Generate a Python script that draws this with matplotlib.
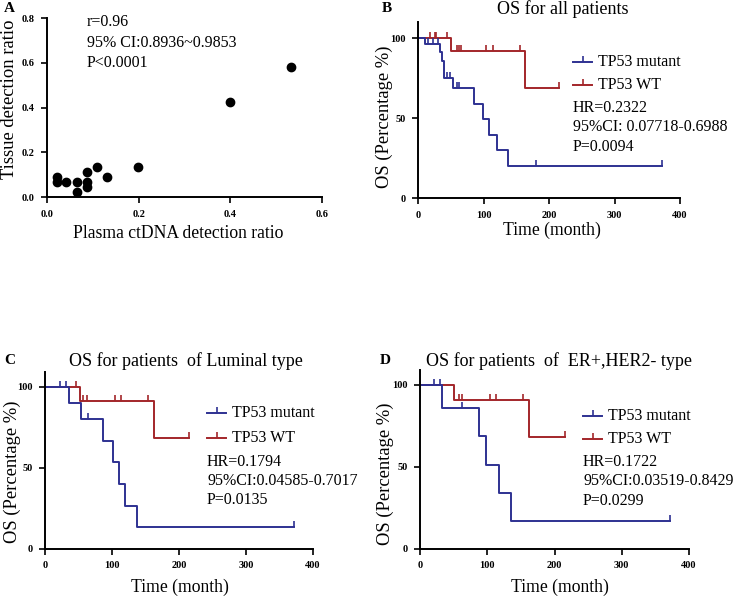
import numpy as np
import matplotlib

matplotlib.use("Agg")
import matplotlib.pyplot as plt
from matplotlib.lines import Line2D
from matplotlib.ticker import FormatStrFormatter

plt.rcParams["font.family"] = ["Liberation Serif", "DejaVu Serif"]

# ── Panel A: plasma vs tissue detection ratio ──────────────────────
PLASMA = [0.021, 0.021, 0.041, 0.066, 0.066, 0.088, 0.088, 0.088, 0.110, 0.131, 0.199, 0.399, 0.533]
TISSUE = [0.090, 0.067, 0.067, 0.067, 0.021, 0.112, 0.067, 0.045, 0.135, 0.090, 0.135, 0.426, 0.583]
A_STATS = ["r=0.96", "95% CI:0.8936~0.9853", "P<0.0001"]

# ── Kaplan-Meier steps (time in months, survival %) ────────────────
B_MUT_T = [0, 10, 34, 37, 39, 53, 86, 99, 109, 120, 137, 372]
B_MUT_S = [100, 96.2, 91.0, 85.7, 74.8, 68.9, 59.0, 49.2, 39.5, 29.8, 19.7, 19.7]
B_MUT_CENSOR = [15, 23, 31, 44, 49, 59, 63, 180, 372]
B_WT_T = [0, 50, 163, 216]
B_WT_S = [100, 91.7, 68.8, 68.8]
B_WT_CENSOR = [19, 26, 28, 45, 60, 63, 66, 104, 114, 155, 216]
B_STATS = ["HR=0.2322", "95%CI: 0.07718-0.6988", "P=0.0094"]

C_MUT_T = [0, 36, 53, 87, 101, 110, 120, 138, 371]
C_MUT_S = [100, 90, 80, 66.7, 53.3, 40, 26.7, 13.3, 13.3]
C_MUT_CENSOR = [23, 32, 64, 371]
C_WT_T = [0, 52, 163, 215]
C_WT_S = [100, 90.9, 68.2, 68.2]
C_WT_CENSOR = [46, 57, 63, 104, 113, 154, 215]
C_STATS = ["HR=0.1794", "95%CI:0.04585-0.7017", "P=0.0135"]

D_MUT_T = [0, 33, 87, 98, 118, 136, 372]
D_MUT_S = [100, 85.7, 68.6, 51.4, 34.3, 17.1, 17.1]
D_MUT_CENSOR = [21, 30, 63, 372]
D_WT_T = [0, 51, 162, 215]
D_WT_S = [100, 90.9, 68.2, 68.2]
D_WT_CENSOR = [58, 62, 104, 113, 153, 215]
D_STATS = ["HR=0.1722", "95%CI:0.03519-0.8429", "P=0.0299"]

BLUE = "#2e3192"
RED = "#a3262a"
W, H = 733, 597
TXT = 11.5
LAB = 12.7
YLAB = 13.4


def px_axes(fig, left, right, top, bottom):
    """Axes from pixel box (origin top-left)."""
    return fig.add_axes([left / W, 1 - bottom / H, (right - left) / W, (bottom - top) / H])


def style_axes(ax):
    for s in ("top", "right"):
        ax.spines[s].set_visible(False)
    for s in ("left", "bottom"):
        ax.spines[s].set_linewidth(1.4)
    ax.tick_params(direction="out", length=4, width=1.2, labelsize=7.5, pad=5)
    for lab in ax.get_xticklabels() + ax.get_yticklabels():
        lab.set_fontweight("bold")


def step_at(times, surv, t):
    idx = np.searchsorted(times, t, side="right") - 1
    return np.asarray(surv)[idx]


def km_panel(ax, mut_t, mut_s, mut_c, wt_t, wt_s, wt_c, ymax):
    for t, s, c, col in ((wt_t, wt_s, wt_c, RED), (mut_t, mut_s, mut_c, BLUE)):
        ax.step(t, s, where="post", color=col, lw=1.4)
        # censor ticks point upward from the curve
        ax.plot(c, step_at(t, s, c), ls="none", marker=2, ms=4, mew=1.2, color=col)
    ax.set_xlim(0, 400)
    ax.set_ylim(0, ymax)
    ax.set_xticks([0, 100, 200, 300, 400])
    ax.set_yticks([0, 50, 100])
    style_axes(ax)


def km_text(fig, x, y_leg, stats, y_stats):
    for col, lab, y in zip([BLUE, RED], ["TP53 mutant", "TP53 WT"], y_leg):
        fig.lines.append(Line2D([x / W, (x + 19) / W], [1 - y / H] * 2, color=col,
                                lw=1.4, transform=fig.transFigure))
        fig.lines.append(Line2D([(x + 9.5) / W], [1 - y / H], color=col, marker=2,
                                ms=4, mew=1.2, transform=fig.transFigure))
        fig.text((x + 25) / W, 1 - y / H, lab, fontsize=TXT, va="center")
    for s, y in zip(stats, y_stats):
        fig.text(x / W, 1 - y / H, s, fontsize=TXT, va="center")


fig = plt.figure(figsize=(7.33, 5.97), dpi=100)

# A
axA = px_axes(fig, 47, 322, 18, 197)
axA.scatter(PLASMA, TISSUE, s=36, color="black", zorder=3)
axA.set_xlim(0, 0.6)
axA.set_ylim(0, 0.8)
axA.set_xticks([0, 0.2, 0.4, 0.6])
axA.set_yticks([0, 0.2, 0.4, 0.6, 0.8])
axA.xaxis.set_major_formatter(FormatStrFormatter("%.1f"))
axA.yaxis.set_major_formatter(FormatStrFormatter("%.1f"))
style_axes(axA)
for s, y in zip(A_STATS, [22, 43, 63]):
    fig.text(87 / W, 1 - y / H, s, fontsize=TXT, va="center")
fig.text(178 / W, 1 - 233 / H, "Plasma ctDNA detection ratio", fontsize=LAB, ha="center", va="center")
fig.text(10 / W, 1 - 99 / H, "Tissue detection ratio", fontsize=YLAB, ha="center", va="center", rotation=90)
fig.text(9 / W, 1 - 8 / H, "A", fontsize=11, fontweight="bold", ha="center", va="center")

# B
axB = px_axes(fig, 418, 680, 22, 198)
km_panel(axB, B_MUT_T, B_MUT_S, B_MUT_CENSOR, B_WT_T, B_WT_S, B_WT_CENSOR, 110)
km_text(fig, 573, [62, 85], B_STATS, [108, 127, 147])
fig.text(563 / W, 1 - 9 / H, "OS for all patients", fontsize=13, ha="center", va="center")
fig.text(552 / W, 1 - 230 / H, "Time (month)", fontsize=LAB, ha="center", va="center")
fig.text(384 / W, 1 - 117 / H, "OS (Percentage %)", fontsize=YLAB, ha="center", va="center", rotation=90)
fig.text(387 / W, 1 - 9 / H, "B", fontsize=11, fontweight="bold", ha="center", va="center")

# C
axC = px_axes(fig, 45, 313, 372, 549)
km_panel(axC, C_MUT_T, C_MUT_S, C_MUT_CENSOR, C_WT_T, C_WT_S, C_WT_CENSOR, 109)
km_text(fig, 207, [413, 438], C_STATS, [462, 481, 500])
fig.text(186 / W, 1 - 361 / H, "OS for patients  of Luminal type", fontsize=13, ha="center", va="center")
fig.text(180 / W, 1 - 587 / H, "Time (month)", fontsize=LAB, ha="center", va="center")
fig.text(12 / W, 1 - 472 / H, "OS (Percentage %)", fontsize=YLAB, ha="center", va="center", rotation=90)
fig.text(10 / W, 1 - 361 / H, "C", fontsize=11, fontweight="bold", ha="center", va="center")

# D
axD = px_axes(fig, 420, 689, 370, 549)
km_panel(axD, D_MUT_T, D_MUT_S, D_MUT_CENSOR, D_WT_T, D_WT_S, D_WT_CENSOR, 109)
km_text(fig, 583, [416, 439], D_STATS, [462, 481, 501])
fig.text(559 / W, 1 - 361 / H, "OS for patients  of  ER+,HER2- type", fontsize=13, ha="center", va="center")
fig.text(560 / W, 1 - 587 / H, "Time (month)", fontsize=LAB, ha="center", va="center")
fig.text(385 / W, 1 - 474 / H, "OS (Percentage %)", fontsize=YLAB, ha="center", va="center", rotation=90)
fig.text(385 / W, 1 - 361 / H, "D", fontsize=11, fontweight="bold", ha="center", va="center")

fig.savefig("out.png", dpi=100)
